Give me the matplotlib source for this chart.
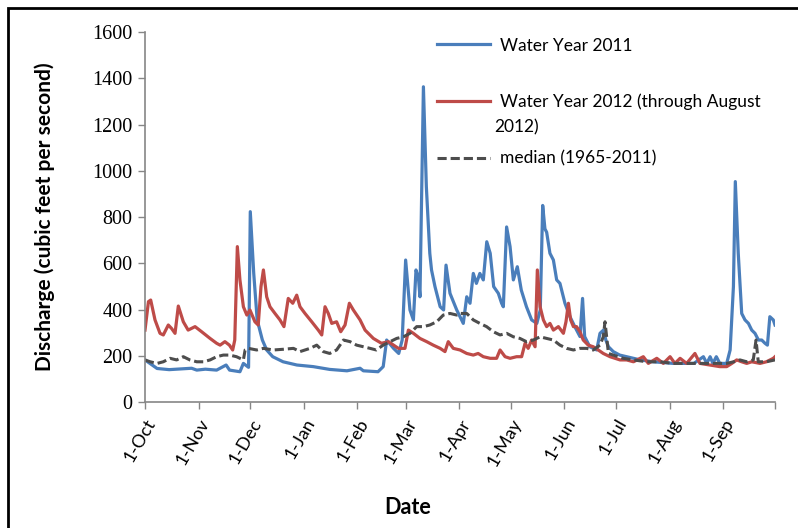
import matplotlib
matplotlib.use("Agg")
import matplotlib.pyplot as plt
import matplotlib.patches as mpatches
import matplotlib.transforms as mtransforms

# days since 1 Oct, daily discharge (cfs)
wy2011_day = [0, 7, 14, 27, 30, 35, 41.5, 47, 49, 55, 57, 60, 61, 63, 65, 68, 70.5, 74, 80, 88,
              97.5, 107, 117, 124.6, 126.5, 135, 138, 140, 144, 147, 149, 151, 153.5, 155.5,
              157, 158.4, 159.3, 161.3, 163, 165, 166, 168, 171, 173, 174.4, 176.7, 180.6,
              184.4, 186.4, 188.3, 190.2, 192, 194, 196, 198, 200, 202, 204.7, 206.6, 207.6,
              209.5, 211.5, 213.4, 215.7, 218, 221, 224, 227, 229, 230.4, 231.7, 232.7, 234.6,
              236.6, 238.5, 240.4, 243.3, 246.2, 249, 252, 253.5, 254.7, 257.7, 261.7, 263.6,
              265.6, 267, 268.5, 271.3, 275, 279, 287, 294.5, 306, 318, 323.5, 325.5, 327.4,
              329, 331, 333, 337, 339, 340.9, 342, 343.7, 345.7, 347.6, 349.6, 351.5, 353.4,
              355.4, 357.3, 359.2, 360.6, 362, 364, 365]
wy2011_cfs = [182, 145, 140, 146, 138, 142, 138, 160, 138, 131, 167, 150, 823, 556, 355, 268, 225,
              196, 174, 160, 153, 141, 135, 146, 135, 131, 153, 268, 232, 210, 268, 614, 398,
              355, 571, 540, 455, 1363, 931, 643, 571, 499, 412, 398, 592, 470, 398, 340, 455,
              427, 556, 513, 556, 528, 693, 643, 499, 470, 427, 412, 757, 672, 528, 585, 484,
              412, 355, 340, 398, 850, 749, 734, 643, 614, 528, 513, 427, 369, 326, 283, 448,
              283, 239, 225, 297, 311, 268, 239, 218, 203, 196, 182, 174, 167, 167, 196, 167,
              196, 167, 196, 167, 167, 225, 499, 953, 643, 383, 355, 340, 311, 297, 268, 268,
              254, 246, 369, 355, 333]

wy2012_day = [0, 2, 3.3, 5.8, 8.7, 10.6, 13.5, 15.4, 17.4, 19.3, 22.2, 25, 29, 32.8, 37.7, 41.5,
              43.5, 46.3, 48.9, 50.8, 52, 53.5, 55, 57, 59, 60.8, 63.7, 65.6, 67.2, 68.6, 70.5,
              72.4, 75.3, 78.2, 80.5, 83, 85.6, 87.9, 89.8, 92.7, 96.6, 100.4, 102.4, 104.3,
              106.2, 108.2, 111, 113.4, 115.9, 118.4, 120.7, 124.6, 127.5, 132.3, 137, 141, 144,
              146.8, 150.6, 152.6, 155.5, 159.3, 163.2, 167, 171, 173.8, 175.7, 178.6, 182.5,
              186.4, 190.2, 193, 196, 200, 203.7, 205.7, 208.6, 211.5, 215.3, 218.2, 220.2, 222,
              224, 226, 227.3, 228.9, 230.8, 232.7, 234.6, 236.6, 239.5, 242.4, 243.9, 245.3,
              246.6, 248.2, 250, 252, 253.9, 256.8, 259.7, 262.6, 265.5, 269.4, 275.2, 279, 283,
              288.7, 291.6, 296.5, 300.3, 304.2, 307, 310, 313.8, 318.6, 321.5, 327.3, 333, 337,
              340, 342.8, 345.7, 348.6, 351.5, 356.3, 360, 364, 365]
wy2012_cfs = [311, 434, 441, 355, 297, 290, 333, 318, 297, 415, 347, 311, 326, 304, 275, 254, 246,
              261, 246, 225, 268, 672, 528, 412, 376, 398, 347, 333, 499, 571, 455, 412, 383,
              355, 326, 448, 427, 462, 412, 383, 347, 311, 290, 412, 383, 340, 347, 304, 333,
              427, 398, 355, 311, 275, 254, 261, 246, 232, 232, 311, 297, 275, 261, 246, 232,
              218, 261, 232, 225, 210, 203, 210, 196, 189, 189, 225, 196, 189, 196, 196, 254,
              232, 268, 239, 571, 412, 355, 326, 340, 311, 326, 297, 347, 427, 355, 326, 326,
              304, 268, 246, 239, 225, 210, 196, 182, 182, 174, 196, 167, 189, 167, 196, 167,
              189, 167, 210, 167, 160, 153, 153, 167, 182, 174, 167, 174, 167, 174, 189, 196]

median_day = [0, 3, 7, 10.6, 14.5, 18.3, 22.2, 26, 30, 33.8, 37.7, 41.5, 45.4, 49, 53, 57, 58, 60,
              64.7, 68.6, 74.4, 80, 86, 89.8, 95.6, 99.5, 103.3, 107, 111, 115, 118.8, 122.6,
              126.5, 130.4, 134, 138, 142, 145.8, 149.7, 153.5, 157.4, 161.3, 165, 169, 172.8,
              176.7, 180.6, 182.5, 186.4, 190.2, 194, 197.9, 201.8, 205.7, 209.5, 213.4, 217.2,
              221, 225, 228.9, 232.7, 236.6, 240.4, 244.3, 248.2, 252, 255.9, 259.7, 263.6,
              265.5, 266.5, 268.5, 271.3, 277, 283, 290.7, 298.4, 306, 313.8, 321.5, 329.3, 337,
              341, 344.7, 348.6, 352.4, 354, 355.3, 360, 365]
median_cfs = [182, 174, 167, 174, 189, 182, 196, 182, 174, 174, 182, 196, 203, 203, 196, 182, 225,
              232, 225, 232, 225, 228, 232, 218, 232, 246, 218, 210, 225, 268, 261, 246, 239,
              232, 225, 246, 261, 275, 282, 297, 326, 326, 333, 347, 376, 383, 376, 383, 383,
              355, 340, 326, 304, 290, 297, 282, 275, 261, 268, 282, 275, 268, 246, 232, 225,
              232, 232, 225, 246, 282, 347, 210, 203, 189, 182, 174, 174, 167, 167, 167, 167,
              167, 174, 182, 174, 182, 268, 174, 174, 182]

month_days = [0, 31, 61, 92, 123, 151, 182, 212, 243, 273, 304, 335, 365]
month_labels = ["1-Oct", "1-Nov", "1-Dec", "1-Jan", "1-Feb", "1-Mar", "1-Apr", "1-May",
                "1-Jun", "1-Jul", "1-Aug", "1-Sep", ""]

SANS = ["Lato", "DejaVu Sans"]
SERIF = ["Liberation Serif", "DejaVu Serif"]
AXIS_GREY = "#868686"

fig = plt.figure(figsize=(7.98, 5.28), dpi=100)
ax = fig.add_axes([0.1817, 0.2386, 0.7895, 0.7008])

ax.plot(wy2011_day, wy2011_cfs, color="#4A7EBB", lw=2.3, label="Water Year 2011")
ax.plot(wy2012_day, wy2012_cfs, color="#BE4B48", lw=2.3,
        label="Water Year 2012 (through August")
ax.plot(median_day, median_cfs, color="#4D4D4D", lw=2.2, dashes=(3.0, 1.3),
        label="median (1965-2011)")

ax.set_xlim(0, 365)
ax.set_ylim(0, 1600)
ax.set_yticks(range(0, 1601, 200))
ax.set_xticks(month_days)
ax.set_xticklabels(month_labels, rotation=60, ha="right", va="top",
                   rotation_mode="anchor", family=SANS, fontsize=13)
for t in ax.get_yticklabels():
    t.set_family(SERIF)
    t.set_fontsize(14.5)
ax.tick_params(axis="both", direction="out", length=5, width=1, color=AXIS_GREY, pad=4)
ax.tick_params(axis="x", pad=5)

for side in ("top", "right"):
    ax.spines[side].set_visible(False)
for side in ("left", "bottom"):
    ax.spines[side].set_color(AXIS_GREY)
    ax.spines[side].set_linewidth(1.2)

ax.set_ylabel("Discharge (cubic feet per second)", family=SANS, fontsize=15, fontweight="bold")
ax.yaxis.set_label_coords(-0.143, 0.5)
ax.set_xlabel("Date", family=SANS, fontsize=15.5, fontweight="bold")
ax.xaxis.set_label_coords(0.4175, -0.285)
ax.xaxis.label.set_va("center")

leg = ax.legend(loc="upper left", bbox_to_anchor=(0.4635, 0.985), frameon=False,
                borderpad=0, borderaxespad=0, handlelength=3.05, handletextpad=0.6,
                labelspacing=2.32, prop={"family": SANS, "size": 12.5})

# second line of the wrapped 2012 legend label
fig.canvas.draw()
bb = leg.get_texts()[1].get_window_extent()
fig.text(bb.x0 - 6, bb.y0 - 9, "2012)", family=SANS, fontsize=12.5,
         ha="left", va="top", transform=mtransforms.IdentityTransform())

# outer chart frame
fig.patches.append(mpatches.Rectangle((8 / 798, -0.1), 1.2, 1.1 - 8 / 528, fill=False,
                                      edgecolor="black", lw=2, transform=fig.transFigure,
                                      figure=fig))

fig.savefig("out.png", dpi=100)
